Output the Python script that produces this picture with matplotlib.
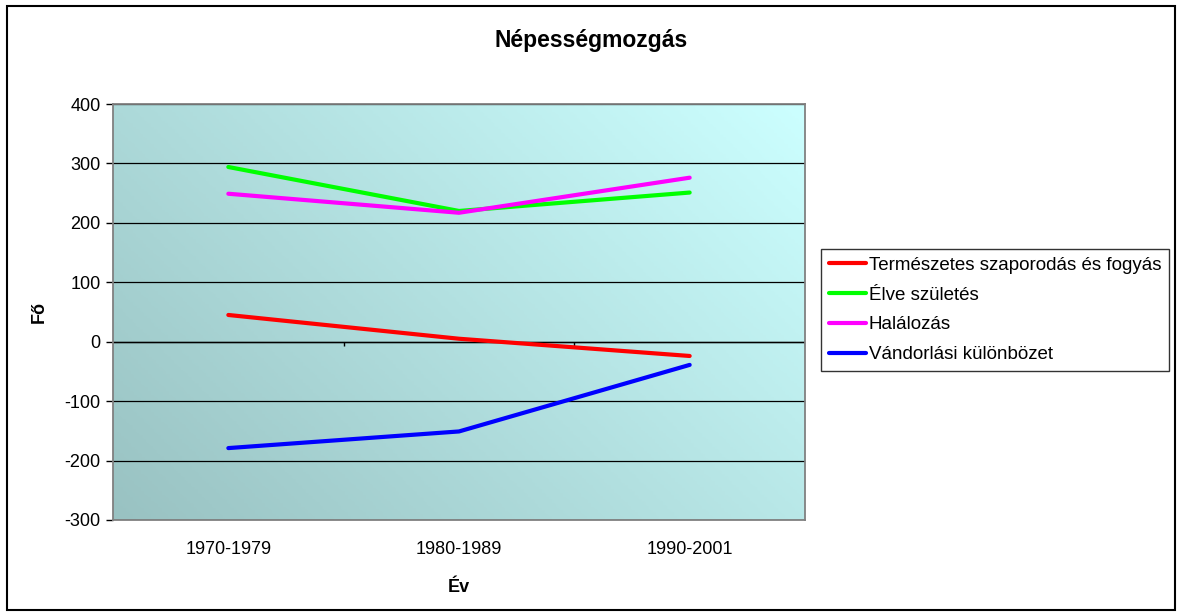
import numpy as np
import matplotlib.pyplot as plt
from matplotlib.colors import LinearSegmentedColormap
from matplotlib.patches import Rectangle

plt.rcParams['font.family'] = ['Liberation Sans', 'DejaVu Sans']
plt.rcParams['axes.unicode_minus'] = False

categories = ['1970-1979', '1980-1989', '1990-2001']
series_names = ['Természetes szaporodás és fogyás', 'Élve születés', 'Halálozás', 'Vándorlási különbözet']
termeszetes = [45, 5, -24]
elve_szuletes = [294, 220, 251]
halalozas = [249, 217, 276]
vandorlasi = [-179, -151, -39]
colors = ['#ff0000', '#00ff00', '#ff00ff', '#0000ff']

fig = plt.figure(figsize=(11.82, 6.14), dpi=100)
ax = fig.add_axes([113 / 1182, 1 - 520 / 614, 692 / 1182, 416 / 614])

# gradient background, dark bottom-left to light top-right
cmap = LinearSegmentedColormap.from_list('bg', ['#99c2c2', '#ccffff'])
gx, gy = np.meshgrid(np.linspace(0, 1, 200), np.linspace(0, 1, 200))
grad = (gx * 0.62 + gy * 0.38)
ax.imshow(grad, cmap=cmap, extent=[0, 1, 0, 1], transform=ax.transAxes,
          origin='lower', aspect='auto', zorder=0)

x = np.arange(len(categories))
for vals, c, name in zip([termeszetes, elve_szuletes, halalozas, vandorlasi], colors, series_names):
    ax.plot(x, vals, color=c, lw=3, label=name, solid_capstyle='round', zorder=3)

ax.set_xlim(-0.5, 2.5)
ax.set_ylim(-300, 400)
ax.set_yticks(np.arange(-300, 401, 100))
ax.yaxis.grid(True, color='black', lw=0.9)
ax.set_axisbelow(False)
for gl in ax.get_ygridlines():
    gl.set_zorder(1)
ax.axhline(0, color='black', lw=1, zorder=2)
# category boundary ticks on the zero line
ax.vlines([0.5, 1.5, 2.5], 0, -8, color='black', lw=1, zorder=2)

ax.set_xticks(x)
ax.set_xticklabels(categories)
ax.tick_params(axis='x', length=0, pad=15, labelsize=13)
ax.tick_params(axis='y', length=5, width=1, labelsize=13, pad=4)
for s in ax.spines.values():
    s.set_color('#808080')
    s.set_linewidth(1.3)
    s.set_zorder(4)

ax.set_xlabel('Év', fontsize=13, fontweight='bold', labelpad=15)
ax.set_ylabel('Fő', fontsize=13, fontweight='bold', labelpad=12)
fig.text(0.5, 1 - 40 / 614, 'Népességmozgás', ha='center', va='center',
         fontsize=16.5, fontweight='bold')

leg = fig.legend(loc='upper left', bbox_to_anchor=(821 / 1182, 1 - 249 / 614),
                 fontsize=13.5, frameon=True, fancybox=False, handlelength=2.0,
                 handletextpad=0.15, borderpad=0.4, labelspacing=0.68,
                 borderaxespad=0)
leg.get_frame().set_edgecolor('black')
leg.get_frame().set_linewidth(1)

# chart border
fig.patches.append(Rectangle((7 / 1182, 4 / 614), 1168 / 1182, 604 / 614,
                             transform=fig.transFigure, fill=False,
                             edgecolor='black', lw=1.5))

fig.savefig('out.png', dpi=100)
